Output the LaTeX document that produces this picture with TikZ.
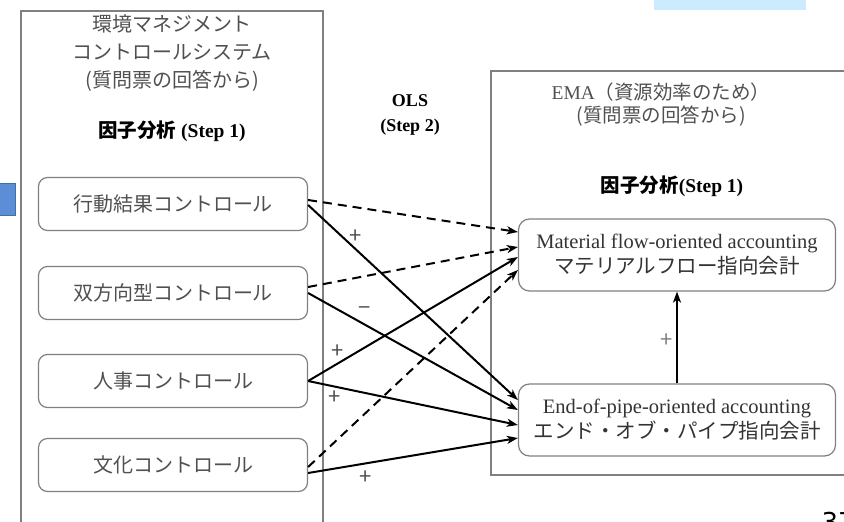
\documentclass[tikz,border=0pt]{standalone}
\usepackage{fontspec}
\setmainfont{Liberation Serif}
\newfontfamily\jp{Noto Sans CJK JP}
\newfontfamily\pagefont{DejaVu Sans}
\usetikzlibrary{arrows.meta, positioning}
\definecolor{my_gray}{RGB}{128, 128, 128}
\definecolor{my_text}{RGB}{80, 80, 80}
\definecolor{my_lightblue}{RGB}{204, 235, 255}
\definecolor{my_blue}{RGB}{91, 142, 214}
\definecolor{my_darkblue}{RGB}{65, 113, 156}
\tikzset {
  bigbox/.style = {draw=my_gray, line width=1.3pt},
  ctrl/.style = {draw=my_gray, line width=1.2pt, rounded corners=9pt, rectangle, minimum width=269pt, minimum height=53pt, text=my_text, font=\jp\fontsize{20}{24}\selectfont},
  acct/.style = {draw=my_gray, line width=1.2pt, rounded corners=11pt, rectangle, minimum width=317pt, minimum height=72pt, align=center, text=black!80, font=\fontsize{20.5}{25}\selectfont},
  head/.style = {align=center, text=my_text},
  line/.style = {-{Stealth[length=11pt, width=8pt, inset=3pt]}, line width=2pt, color=black},
  dline/.style = {line, dash pattern=on 9pt off 6pt},
  sign/.style = {text=my_text, font=\jp\fontsize{22}{22}\selectfont}
}

\begin{document}
\begin{tikzpicture}[x=1pt, y=-1pt]
    \useasboundingbox (0,0) rectangle (844,522);
    \clip (0,0) rectangle (844,522);

    % slide decorations
    \fill[my_lightblue] (654,-2) rectangle (806,10);
    \draw[my_darkblue, line width=1pt, fill=my_blue] (-5,183) rectangle (15,215);
    \node[anchor=base west, font=\pagefont\fontsize{26}{26}\selectfont] (pagenum) at (818,531) {37};

    % containers
    \draw[bigbox] (21,11) rectangle (323,540);
    \draw[bigbox] (491,71) rectangle (850,475);

    \node[head, font=\jp\fontsize{20}{28}\selectfont] (emcs) at (172,53) {環境マネジメント\\コントロールシステム\\(質問票の回答から)};
    \node[font=\bfseries\fontsize{19.5}{24}\selectfont] (fa1) at (172,131) {{\jp 因子分析} (Step 1)};
    \node[head, font=\bfseries\fontsize{18}{25}\selectfont, text=black] (ols) at (410,115) {OLS\\(Step 2)};
    \node[head, font=\fontsize{19.5}{23}\selectfont] (ema) at (661,105) {EMA{\jp（資源効率のため）}\\{\jp (質問票の回答から)}};
    \node[font=\bfseries\fontsize{19.5}{24}\selectfont] (fa2) at (672,186) {{\jp 因子分析}(Step 1)};

    % controls
    \node[ctrl] (action) at (173,204) {行動結果コントロール};
    \node[ctrl] (inter) at (173,293) {双方向型コントロール};
    \node[ctrl] (person) at (173,381) {人事コントロール};
    \node[ctrl] (culture) at (173,465) {文化コントロール};

    % accounting
    \node[acct] (mfoa) at (677,255) {Material flow-oriented accounting\\{\jp\fontsize{20.5}{25}\selectfont マテリアルフロー指向会計}};
    \node[acct] (eop) at (677,420) {End-of-pipe-oriented accounting\\{\jp\fontsize{20.5}{25}\selectfont エンド・オブ・パイプ指向会計}};

    \draw[dline] ([yshift=4pt]action.east) -- ([yshift=23pt]mfoa.west);
    \draw[line] ([yshift=-1pt]action.east) -- ([yshift=20pt]eop.west);
    \draw[dline] ([yshift=6pt]inter.east) -- ([yshift=8pt]mfoa.west);
    \draw[line] (inter.east) -- ([yshift=10pt]eop.west);
    \draw[line] (person.east) -- ([yshift=-2pt]mfoa.west);
    \draw[line] (person.east) -- ([yshift=-5pt]eop.west);
    \draw[dline] ([yshift=-2pt]culture.east) -- ([yshift=-15pt]mfoa.west);
    \draw[line] ([yshift=-8pt]culture.east) -- ([yshift=-18pt]eop.west);
    \draw[line] (eop.north) -- (mfoa.south);

    \node[sign] (s1) at (356,237) {+};
    \node[sign] (s2) at (365,311) {−};
    \node[sign] (s3) at (338,352) {+};
    \node[sign] (s4) at (335,398) {+};
    \node[sign] (s5) at (366,478) {+};
    \node[sign, text=my_gray] (s6) at (667,341) {+};

\end{tikzpicture}
\end{document}
